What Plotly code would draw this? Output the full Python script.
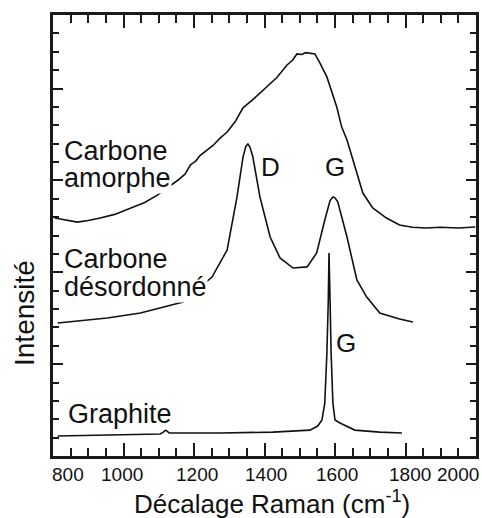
import plotly.graph_objects as go

# ---- data (x: Raman shift in cm-1, y: intensity, arbitrary units) ----
amorphe_x = [805, 840, 869, 900, 934, 975, 1019, 1060, 1096, 1155, 1175, 1190, 1198, 1205, 1217,
             1235, 1254, 1274, 1294, 1317, 1339, 1370, 1407, 1435, 1464, 1480, 1492, 1505, 1517,
             1529, 1543, 1557, 1577, 1605, 1619, 1634, 1648, 1679, 1707, 1746, 1783, 1820, 1857,
             1900, 1950, 1998]
amorphe_y = [12.95, 12.85, 12.73, 12.82, 12.95, 13.15, 13.50, 13.80, 14.20, 15.02, 15.35, 15.85, 15.95,
             16.05, 16.35, 16.60, 16.90, 17.30, 17.63, 18.20, 18.95, 19.45, 20.08, 20.60, 21.28,
             21.55, 21.88, 21.85, 21.95, 21.93, 21.88, 21.39, 20.63, 18.99, 17.90, 17.20, 16.27,
             14.31, 13.50, 12.95, 12.57, 12.45, 12.41, 12.45, 12.41, 12.46]

desordonne_x = [813, 880, 954, 1048, 1169, 1251, 1294, 1322, 1339, 1347, 1353, 1359, 1367, 1387, 1416,
                1444, 1481, 1521, 1548, 1571, 1586, 1594, 1600, 1608, 1634, 1662, 1690, 1727, 1783,
                1821]
desordonne_y = [7.24, 7.35, 7.51, 7.78, 8.38, 9.74, 11.21, 14.10, 16.27, 16.85, 16.98, 16.80, 16.27,
                14.10, 11.92, 10.78, 10.23, 10.29, 11.05, 12.84, 13.90, 14.10, 14.05, 13.82, 11.92,
                9.58, 8.65, 7.78, 7.46, 7.29]

graphite_x = [813, 963, 1104, 1113, 1120, 1130, 1274, 1424, 1500, 1529, 1551, 1563, 1571, 1577,
              1581, 1583, 1586, 1589, 1594, 1600, 1614, 1656, 1727, 1790]
graphite_y = [1.09, 1.14, 1.20, 1.30, 1.41, 1.25, 1.25, 1.30, 1.36, 1.41, 1.63, 1.96, 2.88, 5.61,
              8.49, 11.05, 8.49, 5.61, 2.88, 1.96, 1.80, 1.41, 1.30, 1.25]

x_tick_values = [800, 1000, 1200, 1400, 1600, 1800, 2000]
x_tick_labels = ["800", "1000", "1200", "1400", "1600", "1800", "2000"]

FONT = "Liberation Sans, Arial, sans-serif"
INK = "#111111"
FRAME = "#1a1a1a"
LINE = dict(color=INK, width=1.6)

fig = go.Figure()
fig.add_trace(go.Scatter(x=amorphe_x, y=amorphe_y, mode="lines", line=LINE,
                         name="Carbone amorphe", showlegend=False, hoverinfo="skip"))
fig.add_trace(go.Scatter(x=desordonne_x, y=desordonne_y, mode="lines", line=LINE,
                         name="Carbone désordonné", showlegend=False, hoverinfo="skip"))
# graphite drawn on the mirrored (top/right) axes, which match the main ones
fig.add_trace(go.Scatter(x=graphite_x, y=graphite_y, mode="lines", line=LINE,
                         name="Graphite", showlegend=False, hoverinfo="skip",
                         xaxis="x2", yaxis="y2"))

annotations = []
# curve labels (white boxes hide the curve behind the text, as in the original)
for text, x, y in [("Carbone", 827, 16.62), ("amorphe", 827, 15.15),
                   ("Carbone", 827, 10.70), ("désordonné", 827, 9.18),
                   ("Graphite", 841, 2.30)]:
    annotations.append(dict(text=text, x=x, y=y, xref="x", yref="y", xanchor="left",
                            yanchor="middle", showarrow=False, bgcolor="white", borderpad=0,
                            font=dict(family=FONT, size=27, color=INK)))
for text, x, y in [("D", 1418, 15.73), ("G", 1600, 15.73), ("G", 1631, 6.15)]:
    annotations.append(dict(text=text, x=x, y=y, xref="x", yref="y", xanchor="center",
                            yanchor="middle", showarrow=False,
                            font=dict(family=FONT, size=26, color=INK)))
# x tick labels (placed like in the original, first/last pulled inside)
shifts = [15, -2, 3, 1, 2, 4, -18]
for v, lab, s in zip(x_tick_values, x_tick_labels, shifts):
    annotations.append(dict(text=lab, x=v, y=0, xref="x", yref="paper", xanchor="center",
                            yanchor="top", yshift=-6, xshift=s, showarrow=False,
                            font=dict(family=FONT, size=19, color=INK)))
# axis titles
annotations.append(dict(text="Décalage Raman (cm<sup>-1</sup>)", x=0.518, y=0, xref="paper",
                        yref="paper", xanchor="center", yanchor="top", yshift=-28,
                        showarrow=False, font=dict(family=FONT, size=26, color=INK)))
annotations.append(dict(text="Intensité", x=0, y=(456 - 313) / 441, xref="paper", yref="paper",
                        xanchor="center", yanchor="middle", xshift=-29, textangle=-90,
                        showarrow=False, font=dict(family=FONT, size=28, color=INK)))

axis_common = dict(showgrid=False, zeroline=False, showline=True, automargin=False,
                   linewidth=2.5, linecolor=FRAME, ticks="inside", tickwidth=2,
                   tickcolor=FRAME, showticklabels=False)
x_minor = dict(ticks="inside", dtick=50, ticklen=8, tickwidth=1.6, tickcolor=FRAME)
y_minor = dict(ticks="inside", dtick=1, ticklen=6, tickwidth=1.6, tickcolor=FRAME)

fig.update_layout(
    template="none",
    width=482, height=518,
    margin=dict(l=53, r=6, t=15, b=62, autoexpand=False),
    paper_bgcolor="white", plot_bgcolor="white",
    font=dict(family=FONT, color=INK),
    annotations=annotations,
    xaxis=dict(range=[800, 2000], side="bottom", anchor="y", tickmode="array",
               tickvals=x_tick_values, ticklen=13, minor=x_minor, **axis_common),
    xaxis2=dict(range=[800, 2000], side="top", anchor="y", overlaying="x", matches="x",
                tickmode="array", tickvals=x_tick_values, ticklen=13, minor=x_minor,
                **axis_common),
    yaxis=dict(range=[0, 24], side="left", anchor="x", tickmode="linear", tick0=0, dtick=5,
               ticklen=10, minor=y_minor, **axis_common),
    yaxis2=dict(range=[0, 24], side="right", anchor="x", overlaying="y", matches="y",
                tickmode="linear", tick0=0, dtick=5, ticklen=10, minor=y_minor,
                **axis_common),
)

fig.write_html("out.html", config={"displayModeBar": False},
               post_script="document.body.style.margin='0';document.body.style.overflow='hidden';")
